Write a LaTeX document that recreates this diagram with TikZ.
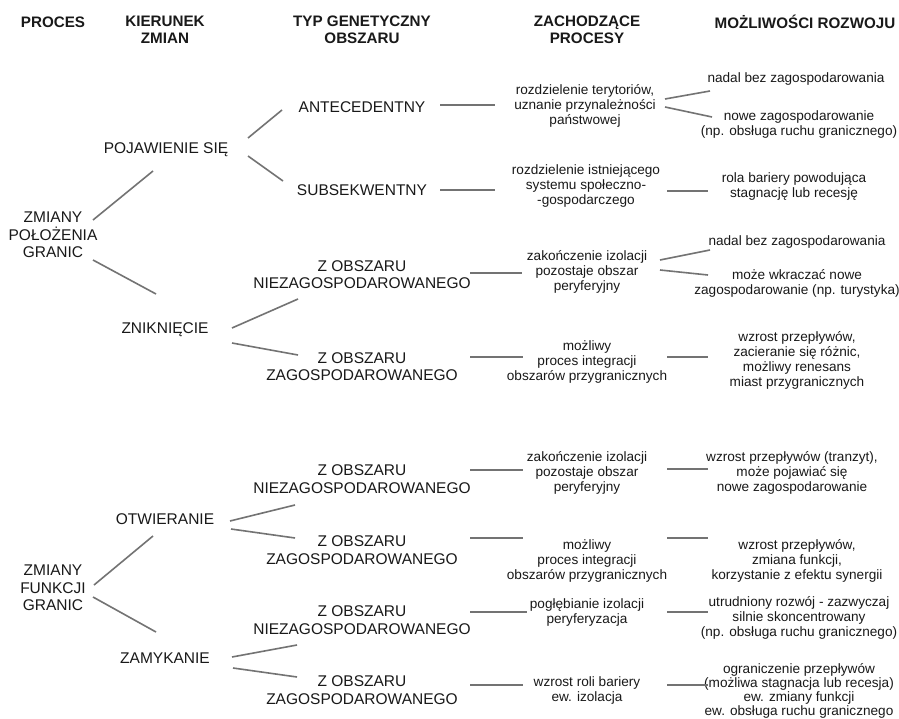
\documentclass[tikz,border=0pt]{standalone}
\usepackage{fontspec}
\setmainfont{Liberation Sans}
\begin{document}
\begin{tikzpicture}[x=1pt,y=-1pt,
  hdr/.style={font=\bfseries\fontsize{15.2}{16.5}\selectfont,align=center,inner sep=0pt,text=black!90},
  caps/.style={font=\fontsize{15.5}{17.5}\selectfont,align=center,inner sep=0pt,text=black!90},
  body/.style={font=\fontsize{13.6}{15}\selectfont,align=center,inner sep=0pt,text=black!90},
  tight/.style={font=\fontsize{13.6}{14}\selectfont},
  conn/.style={draw=black!55,line width=1.6pt}]
\useasboundingbox (0,0) rectangle (899,719);
\fill[white] (0,0) rectangle (899,719);
% headers
\node[hdr] (hproc) at (53,22) {PROCES};
\node[hdr] (hkier) at (165,30) {KIERUNEK\\ZMIAN};
\node[hdr] (htyp) at (362,30) {TYP GENETYCZNY\\OBSZARU};
\node[hdr] (hzach) at (587,30) {ZACHODZĄCE\\PROCESY};
\node[hdr] (hmozl) at (805,22) {MOŻLIWOŚCI ROZWOJU};
% level 1
\node[caps] (zpg) at (53,235) {ZMIANY\\POŁOŻENIA\\GRANIC};
\node[caps] (zfg) at (53,588) {ZMIANY\\FUNKCJI\\GRANIC};
% level 2
\node[caps] (poj) at (166,150) {POJAWIENIE SIĘ};
\node[caps] (znik) at (165,330) {ZNIKNIĘCIE};
\node[caps] (otw) at (165,519) {OTWIERANIE};
\node[caps] (zam) at (165,658) {ZAMYKANIE};
% level 3
\node[caps] (ant) at (362,107) {ANTECEDENTNY};
\node[caps] (sub) at (362,190) {SUBSEKWENTNY};
\node[caps] (nz1) at (362,274.5) {Z OBSZARU\\NIEZAGOSPODAROWANEGO};
\node[caps] (z1) at (362,366.5) {Z OBSZARU\\ZAGOSPODAROWANEGO};
\node[caps] (nz2) at (362,479) {Z OBSZARU\\NIEZAGOSPODAROWANEGO};
\node[caps] (z2) at (362,550) {Z OBSZARU\\ZAGOSPODAROWANEGO};
\node[caps] (nz3) at (362,620) {Z OBSZARU\\NIEZAGOSPODAROWANEGO};
\node[caps] (z3) at (362,690) {Z OBSZARU\\ZAGOSPODAROWANEGO};
% level 4
\node[body] (p1) at (585,106) {rozdzielenie terytoriów,\\uznanie przynależności\\państwowej};
\node[body] (p2) at (586,186) {rozdzielenie istniejącego\\systemu społeczno-\\-gospodarczego};
\node[body] (p3) at (587,272) {zakończenie izolacji\\pozostaje obszar\\peryferyjny};
\node[body] (p4) at (587,362) {możliwy\\proces integracji\\obszarów przygranicznych};
\node[body] (p5) at (587,473) {zakończenie izolacji\\pozostaje obszar\\peryferyjny};
\node[body] (p6) at (587,561) {możliwy\\proces integracji\\obszarów przygranicznych};
\node[body] (p7) at (587,612) {pogłębianie izolacji\\peryferyzacja};
\node[body] (p8) at (587,690) {wzrost roli bariery\\ew. izolacja};
% level 5
\node[body] (m1) at (796,79) {nadal bez zagospodarowania};
\node[body] (m2) at (799,124.5) {nowe zagospodarowanie\\(np. obsługa ruchu granicznego)};
\node[body] (m3) at (794,186) {rola bariery powodująca\\stagnację lub recesję};
\node[body] (m4) at (797,242) {nadal bez zagospodarowania};
\node[body] (m5) at (797,283.5) {może wkraczać nowe\\zagospodarowanie (np. turystyka)};
\node[body] (m6) at (797,360) {wzrost przepływów,\\zacieranie się różnic,\\możliwy renesans\\miast przygranicznych};
\node[body] (m7) at (792,473) {wzrost przepływów (tranzyt),\\może pojawiać się\\nowe zagospodarowanie};
\node[body] (m8) at (797,561) {wzrost przepływów,\\zmiana funkcji,\\korzystanie z efektu synergii};
\node[body] (m9) at (799,618) {utrudniony rozwój - zazwyczaj\\silnie skoncentrowany\\(np. obsługa ruchu granicznego)};
\node[body,tight] (m10) at (799,691) {ograniczenie przepływów\\(możliwa stagnacja lub recesja)\\ew. zmiany funkcji\\ew. obsługa ruchu granicznego};
% connectors level1-2
\draw[conn] ([shift={(40,-15)}]zpg.center) -- ([shift={(-13,21)}]poj.center);
\draw[conn] ([shift={(40,25)}]zpg.center) -- ([shift={(-9,-36)}]znik.center);
\draw[conn] ([shift={(41,-3)}]zfg.center) -- ([shift={(-12,17)}]otw.center);
\draw[conn] ([shift={(40,9)}]zfg.center) -- ([shift={(-9,-26)}]zam.center);
% level2-3
\draw[conn] ([shift={(82,-12)}]poj.center) -- ([shift={(-80,3)}]ant.center);
\draw[conn] ([shift={(82,6)}]poj.center) -- ([shift={(-79,-9)}]sub.center);
\draw[conn] ([shift={(67,-2)}]znik.center) -- ([shift={(-64,24.5)}]nz1.center);
\draw[conn] ([shift={(67,13)}]znik.center) -- ([shift={(-64,-11.5)}]z1.center);
\draw[conn] ([shift={(65,2)}]otw.center) -- ([shift={(-67,26)}]nz2.center);
\draw[conn] ([shift={(66,10)}]otw.center) -- ([shift={(-67,-12)}]z2.center);
\draw[conn] ([shift={(67,-1)}]zam.center) -- ([shift={(-65,25)}]nz3.center);
\draw[conn] ([shift={(68,10)}]zam.center) -- ([shift={(-65,-13)}]z3.center);
% level3-4
\draw[conn] ([shift={(78,-2)}]ant.center) -- ([shift={(-90,-1)}]p1.center);
\draw[conn] ([shift={(78,0)}]sub.center) -- ([shift={(-91,4)}]p2.center);
\draw[conn] ([shift={(108,-1.5)}]nz1.center) -- ([shift={(-65,1)}]p3.center);
\draw[conn] ([shift={(108,-9.5)}]z1.center) -- ([shift={(-64,-5)}]p4.center);
\draw[conn] ([shift={(108,-9)}]nz2.center) -- ([shift={(-64,-3)}]p5.center);
\draw[conn] ([shift={(108,-12)}]z2.center) -- ([shift={(-64,-23)}]p6.center);
\draw[conn] ([shift={(108,-8)}]nz3.center) -- ([shift={(-60,0)}]p7.center);
\draw[conn] ([shift={(108,-5)}]z3.center) -- ([shift={(-64,-5)}]p8.center);
% level4-5
\draw[conn] ([shift={(80,-7)}]p1.center) -- ([shift={(-86,12)}]m1.center);
\draw[conn] ([shift={(80,1)}]p1.center) -- ([shift={(-87,-7.5)}]m2.center);
\draw[conn] ([shift={(81,5)}]p2.center) -- ([shift={(-86,5)}]m3.center);
\draw[conn] ([shift={(73,-12)}]p3.center) -- ([shift={(-87,8)}]m4.center);
\draw[conn] ([shift={(73,-2)}]p3.center) -- ([shift={(-89,-8.5)}]m5.center);
\draw[conn] ([shift={(80,-5)}]p4.center) -- ([shift={(-89,-3)}]m6.center);
\draw[conn] ([shift={(80,-4)}]p5.center) -- ([shift={(-84,-4)}]m7.center);
\draw[conn] ([shift={(80,-23)}]p6.center) -- ([shift={(-89,-23)}]m8.center);
\draw[conn] ([shift={(80,0)}]p7.center) -- ([shift={(-91,-6)}]m9.center);
\draw[conn] ([shift={(80,-5)}]p8.center) -- ([shift={(-91,-6)}]m10.center);
\end{tikzpicture}
\end{document}
